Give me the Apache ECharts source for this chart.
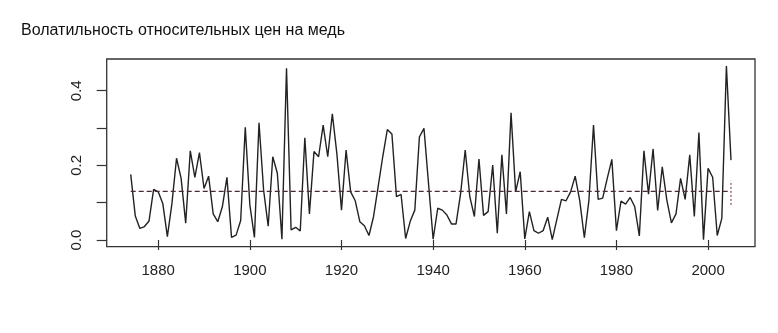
<!DOCTYPE html>
<html>
<head>
<meta charset="utf-8">
<script src="https://cdn.jsdelivr.net/npm/echarts@6/dist/echarts.min.js"></script>
<style>
html,body{margin:0;padding:0;background:#fff;}
#chart{width:778px;height:333px;}
</style>
</head>
<body>
<div id="chart"></div>
<script>
var titleText = 'Волатильность относительных цен на медь';
var years = [1874,1875,1876,1877,1878,1879,1880,1881,1882,1883,1884,1885,1886,1887,1888,1889,1890,1891,1892,1893,1894,1895,1896,1897,1898,1899,
1900,1901,1902,1903,1904,1905,1906,1907,1908,1909,1910,1911,1912,1913,1914,1915,1916,1917,1918,1919,
1920,1921,1922,1923,1924,1925,1926,1927,1928,1929,1930,1931,1932,1933,1934,1935,1936,1937,1938,1939,
1940,1941,1942,1943,1944,1945,1946,1947,1948,1949,1950,1951,1952,1953,1954,1955,1956,1957,1958,1959,
1960,1961,1962,1963,1964,1965,1966,1967,1968,1969,1970,1971,1972,1973,1974,1975,1976,1977,1978,1979,
1980,1981,1982,1983,1984,1985,1986,1987,1988,1989,1990,1991,1992,1993,1994,1995,1996,1997,1998,1999,
2000,2001,2002,2003,2004,2005];
var volatility = [0.176,0.064,0.031,0.036,0.051,0.136,0.129,0.098,0.009,0.098,0.219,0.165,0.045,0.239,0.168,0.234,0.138,0.171,0.070,0.049,0.089,0.168,0.007,0.013,0.052,0.302,
0.094,0.007,0.314,0.134,0.037,0.223,0.179,0.002,0.460,0.027,0.034,0.024,0.274,0.070,0.237,0.223,0.308,0.223,0.338,0.230,
0.080,0.241,0.129,0.105,0.049,0.038,0.012,0.063,0.143,0.223,0.296,0.284,0.116,0.122,0.004,0.050,0.080,0.276,0.299,0.150,
0.002,0.085,0.080,0.067,0.043,0.043,0.125,0.241,0.116,0.063,0.217,0.066,0.076,0.201,0.018,0.228,0.070,0.341,0.129,0.183,
0.003,0.076,0.025,0.018,0.025,0.061,0.001,0.055,0.109,0.105,0.129,0.171,0.105,0.006,0.107,0.308,0.109,0.112,0.165,0.216,
0.025,0.104,0.096,0.114,0.089,0.011,0.239,0.123,0.244,0.079,0.196,0.107,0.046,0.070,0.165,0.109,0.228,0.063,0.288,0.001,
0.192,0.168,0.012,0.058,0.466,0.214];
var meanLevel = 0.13;
var meanSpan = [1874, 2005];
var intervalYear = 2005;
var intervalRange = [0.094, 0.159];
var xTicks = [1880,1900,1920,1940,1960,1980,2000];
var yTicks = [0,0.1,0.2,0.3,0.4];
var yLabels = [0,0.2,0.4];

var lineData = years.map(function(y,i){return [y, volatility[i]];});
var meanData = meanSpan.map(function(y){return [y, meanLevel];});
var intervalData = intervalRange.map(function(v){return [intervalYear, v];});

var chart = echarts.init(document.getElementById('chart'), null, {renderer:'canvas'});
var font = 'Liberation Sans, Arial, Helvetica, sans-serif';
chart.setOption({
  animation:false,
  backgroundColor:'#ffffff',
  title:{text:titleText,left:16,top:18,textStyle:{fontFamily:font,fontSize:16,fontWeight:'normal',color:'#111'}},
  grid:{left:106.7,right:23,top:59,bottom:86.3,show:true,borderColor:'#333',borderWidth:1.3,backgroundColor:'transparent'},
  xAxis:{type:'value',min:1868.76,max:2010.24,
    axisLine:{show:false},splitLine:{show:false},
    axisTick:{show:true,customValues:xTicks,length:10,lineStyle:{color:'#333',width:1.2}},
    axisLabel:{customValues:xTicks,margin:17,fontFamily:font,fontSize:15,color:'#222',
      formatter:function(v){return String(Math.round(v));}}},
  yAxis:{type:'value',min:-0.018,max:0.485,
    axisLine:{show:false},splitLine:{show:false},
    axisTick:{show:true,customValues:yTicks,length:10,lineStyle:{color:'#333',width:1.2}},
    axisLabel:{customValues:yLabels,rotate:90,margin:22,fontFamily:font,fontSize:15,color:'#222',
      formatter:function(v){return v.toFixed(1);}}},
  series:[
    {type:'line',data:lineData,showSymbol:false,lineStyle:{color:'#222',width:1.4},z:3},
    {type:'line',data:meanData,showSymbol:false,lineStyle:{color:'#4a2a2e',width:1.2,type:[5,3]},z:4},
    {type:'line',data:intervalData,showSymbol:false,lineStyle:{color:'#9a6a6e',width:1.4,type:[2,2]},z:4}
  ]
});
</script>
</body>
</html>
